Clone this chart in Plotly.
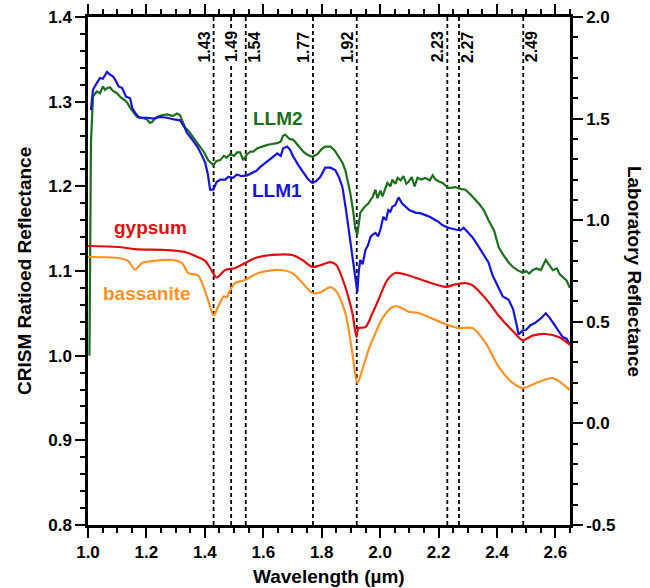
import plotly.graph_objects as go

# ---------------- data ----------------
llm2_x = [1.005, 1.010, 1.017, 1.030, 1.041, 1.051, 1.058, 1.065, 1.075, 1.085, 1.099, 1.112, 1.125, 1.134, 1.144,
          1.154, 1.161, 1.168, 1.185, 1.202, 1.212, 1.219, 1.230, 1.237, 1.252, 1.271, 1.290, 1.305, 1.315, 1.325,
          1.333, 1.345, 1.360, 1.372, 1.384, 1.398, 1.411, 1.429, 1.440, 1.453, 1.465, 1.475, 1.487, 1.500, 1.510,
          1.521, 1.531, 1.545, 1.556, 1.566, 1.580, 1.595, 1.614, 1.630, 1.648, 1.660, 1.668, 1.675, 1.690, 1.703,
          1.720, 1.737, 1.752, 1.768, 1.785, 1.800, 1.812, 1.830, 1.845, 1.857, 1.871, 1.881, 1.891, 1.898, 1.908,
          1.915, 1.922, 1.928, 1.932, 1.945, 1.960, 1.975, 1.984, 1.991, 2.001, 2.008, 2.018, 2.025, 2.035, 2.042,
          2.052, 2.060, 2.070, 2.080, 2.090, 2.097, 2.108, 2.118, 2.128, 2.140, 2.155, 2.170, 2.180, 2.190, 2.200,
          2.214, 2.234, 2.258, 2.275, 2.292, 2.310, 2.337, 2.355, 2.371, 2.390, 2.406, 2.420, 2.440, 2.454, 2.470,
          2.488, 2.500, 2.510, 2.522, 2.535, 2.550, 2.567, 2.580, 2.591, 2.605, 2.615, 2.625, 2.638, 2.650]
llm2_y = [1.000, 1.250, 1.306, 1.312, 1.310, 1.318, 1.314, 1.316, 1.317, 1.313, 1.310, 1.305, 1.302, 1.299, 1.293,
          1.288, 1.284, 1.282, 1.281, 1.279, 1.275, 1.276, 1.280, 1.282, 1.284, 1.285, 1.283, 1.286, 1.284, 1.276,
          1.269, 1.265, 1.258, 1.252, 1.247, 1.240, 1.231, 1.225, 1.230, 1.231, 1.236, 1.234, 1.238, 1.236, 1.240,
          1.240, 1.231, 1.238, 1.241, 1.241, 1.245, 1.247, 1.249, 1.250, 1.251, 1.253, 1.260, 1.261, 1.256, 1.255,
          1.248, 1.241, 1.237, 1.235, 1.238, 1.244, 1.247, 1.247, 1.242, 1.235, 1.228, 1.219, 1.205, 1.192, 1.170,
          1.150, 1.143, 1.160, 1.169, 1.175, 1.180, 1.188, 1.196, 1.186, 1.195, 1.188, 1.198, 1.204, 1.200, 1.208,
          1.203, 1.210, 1.207, 1.212, 1.203, 1.205, 1.211, 1.200, 1.210, 1.208, 1.210, 1.207, 1.213, 1.208, 1.206,
          1.204, 1.198, 1.199, 1.197, 1.196, 1.190, 1.180, 1.172, 1.160, 1.148, 1.128, 1.120, 1.110, 1.105, 1.101,
          1.098, 1.100, 1.097, 1.101, 1.103, 1.101, 1.113, 1.106, 1.101, 1.103, 1.096, 1.093, 1.089, 1.080]

llm1_x = [1.010, 1.017, 1.030, 1.041, 1.051, 1.058, 1.065, 1.075, 1.085, 1.093, 1.105, 1.117, 1.130, 1.144, 1.152,
          1.161, 1.175, 1.202, 1.225, 1.245, 1.271, 1.295, 1.315, 1.330, 1.339, 1.355, 1.374, 1.388, 1.401, 1.410,
          1.418, 1.429, 1.440, 1.453, 1.470, 1.480, 1.497, 1.510, 1.525, 1.545, 1.560, 1.575, 1.590, 1.610, 1.630,
          1.648, 1.660, 1.668, 1.682, 1.692, 1.703, 1.720, 1.737, 1.752, 1.768, 1.780, 1.795, 1.812, 1.830, 1.847,
          1.860, 1.871, 1.882, 1.891, 1.900, 1.908, 1.915, 1.922, 1.927, 1.932, 1.940, 1.950, 1.958, 1.967, 1.975,
          1.984, 1.993, 2.001, 2.011, 2.020, 2.028, 2.035, 2.042, 2.052, 2.063, 2.075, 2.087, 2.100, 2.121, 2.140,
          2.155, 2.170, 2.190, 2.200, 2.214, 2.234, 2.258, 2.275, 2.286, 2.300, 2.316, 2.335, 2.351, 2.371, 2.385,
          2.406, 2.420, 2.440, 2.455, 2.465, 2.474, 2.488, 2.498, 2.515, 2.532, 2.550, 2.567, 2.580, 2.590, 2.601,
          2.612, 2.625, 2.638, 2.650]
llm1_y = [1.290, 1.314, 1.322, 1.328, 1.327, 1.331, 1.335, 1.332, 1.330, 1.326, 1.318, 1.316, 1.306, 1.304, 1.292,
          1.287, 1.281, 1.281, 1.280, 1.282, 1.281, 1.279, 1.278, 1.270, 1.263, 1.256, 1.247, 1.238, 1.228, 1.215,
          1.196, 1.196, 1.205, 1.208, 1.208, 1.211, 1.210, 1.214, 1.212, 1.213, 1.216, 1.218, 1.223, 1.228, 1.234,
          1.239, 1.236, 1.245, 1.247, 1.243, 1.235, 1.225, 1.216, 1.209, 1.204, 1.206, 1.211, 1.222, 1.222, 1.219,
          1.210, 1.199, 1.175, 1.152, 1.128, 1.105, 1.090, 1.075, 1.100, 1.113, 1.108, 1.125, 1.130, 1.140, 1.143,
          1.145, 1.141, 1.149, 1.164, 1.160, 1.172, 1.170, 1.176, 1.178, 1.187, 1.180, 1.176, 1.172, 1.169, 1.168,
          1.166, 1.164, 1.160, 1.158, 1.154, 1.151, 1.149, 1.148, 1.151, 1.146, 1.140, 1.130, 1.121, 1.110, 1.095,
          1.081, 1.070, 1.066, 1.055, 1.040, 1.025, 1.030, 1.030, 1.036, 1.039, 1.044, 1.050, 1.045, 1.040, 1.034,
          1.030, 1.022, 1.020, 1.013]

gyp_x = [1.000, 1.103, 1.161, 1.274, 1.333, 1.377, 1.401, 1.418, 1.440, 1.455, 1.470, 1.504, 1.538, 1.573,
         1.631, 1.699, 1.734, 1.768, 1.795, 1.830, 1.850, 1.881, 1.905, 1.919, 1.926, 1.950, 1.974, 1.994,
         2.025, 2.052, 2.087, 2.155, 2.224, 2.258, 2.292, 2.316, 2.345, 2.375, 2.406, 2.454, 2.488, 2.522,
         2.567, 2.611, 2.650]
gyp_y = [0.873, 0.868, 0.858, 0.853, 0.843, 0.818, 0.800, 0.765, 0.718, 0.735, 0.755, 0.765, 0.789, 0.814,
         0.829, 0.829, 0.804, 0.770, 0.778, 0.794, 0.780, 0.671, 0.543, 0.425, 0.469, 0.474, 0.543, 0.607,
         0.706, 0.740, 0.733, 0.700, 0.672, 0.684, 0.690, 0.680, 0.640, 0.590, 0.530, 0.455, 0.410, 0.432,
         0.440, 0.425, 0.386]

bas_x = [1.000, 1.103, 1.137, 1.161, 1.185, 1.219, 1.288, 1.322, 1.343, 1.377, 1.401, 1.418, 1.430, 1.446,
         1.465, 1.475, 1.485, 1.504, 1.538, 1.583, 1.651, 1.699, 1.734, 1.768, 1.795, 1.830, 1.850, 1.881,
         1.905, 1.922, 1.939, 1.960, 1.984, 2.011, 2.042, 2.063, 2.097, 2.131, 2.166, 2.214, 2.241, 2.268,
         2.316, 2.361, 2.406, 2.454, 2.488, 2.543, 2.591, 2.650]
bas_y = [0.819, 0.814, 0.800, 0.757, 0.789, 0.799, 0.804, 0.789, 0.740, 0.728, 0.650, 0.575, 0.530, 0.575,
         0.625, 0.620, 0.650, 0.691, 0.706, 0.740, 0.755, 0.740, 0.691, 0.642, 0.645, 0.671, 0.650, 0.543,
         0.346, 0.199, 0.263, 0.361, 0.445, 0.524, 0.573, 0.575, 0.550, 0.543, 0.524, 0.494, 0.480, 0.469,
         0.469, 0.396, 0.278, 0.199, 0.174, 0.204, 0.223, 0.164]

band_centers = [1.43, 1.49, 1.54, 1.77, 1.92, 2.23, 2.27, 2.49]
band_labels = ["1.43", "1.49", "1.54", "1.77", "1.92", "2.23", "2.27", "2.49"]
band_label_side = [-1, 0, 1, -1, -1, -1, 1, 1]   # label left of, on, or right of its line

right_tick_vals = [-0.5, 0.0, 0.5, 1.0, 1.5, 2.0]
right_tick_text = ["-0.5", "0.0", "0.5", "1.0", "1.5", "2.0"]

x_range = [1.0, 2.65]
y_left_range = [0.8, 1.4]
y_right_range = [-0.5, 2.0]

# ---------------- styling ----------------
GREEN = "#1d6e1d"
BLUE = "#1414dc"
RED = "#e00f0f"
ORANGE = "#ff9224"
FONT = "Liberation Sans, Arial, sans-serif"

fig = go.Figure()
fig.add_trace(go.Scatter(x=llm2_x, y=llm2_y, mode="lines", line=dict(color=GREEN, width=2.2), yaxis="y"))
fig.add_trace(go.Scatter(x=llm1_x, y=llm1_y, mode="lines", line=dict(color=BLUE, width=2.2), yaxis="y"))
fig.add_trace(go.Scatter(x=gyp_x, y=gyp_y, mode="lines", line=dict(color=RED, width=2.2, shape="spline", smoothing=0.8), yaxis="y2"))
fig.add_trace(go.Scatter(x=bas_x, y=bas_y, mode="lines", line=dict(color=ORANGE, width=2.2, shape="spline", smoothing=0.8), yaxis="y2"))

shapes = []
annotations = []
for c, lab, side in zip(band_centers, band_labels, band_label_side):
    shapes.append(dict(type="line", xref="x", yref="paper", x0=c, x1=c, y0=0, y1=1,
                       line=dict(color="black", width=1.8, dash="4px,3px"), layer="below"))
    ann = dict(x=c, y=0.941, xref="x", yref="paper", text=lab, showarrow=False,
               xanchor="center", yanchor="middle", textangle=-90, xshift=9 * side if side else 1,
               font=dict(family=FONT, size=16, color="black", weight="bold"))
    if side == 0:
        ann["bgcolor"] = "white"
    annotations.append(ann)

curve_labels = [("LLM2", 1.651, 1.280, GREEN), ("LLM1", 1.648, 1.195, BLUE),
                ("gypsum", 1.213, 1.151, RED), ("bassanite", 1.202, 1.074, ORANGE)]
for t, xx, yy, col in curve_labels:
    annotations.append(dict(x=xx, y=yy, xref="x", yref="y", text=t, showarrow=False,
                            xanchor="center", yanchor="middle",
                            font=dict(family=FONT, size=19, color=col, weight="bold")))

title_font = dict(family=FONT, size=19, color="black", weight="bold")
annotations.append(dict(x=-0.133, y=0.5, xref="paper", yref="paper", text="CRISM Ratioed Reflectance",
                        xanchor="center", yanchor="middle", showarrow=False, textangle=-90, font=title_font))
annotations.append(dict(x=1.135, y=0.5, xref="paper", yref="paper", text="Laboratory Reflectance",
                        xanchor="center", yanchor="middle", showarrow=False, textangle=90, font=title_font))
annotations.append(dict(x=0.5, y=-0.102, xref="paper", yref="paper", text="Wavelength (µm)",
                        xanchor="center", yanchor="middle", showarrow=False, font=title_font))

tickfont = dict(family=FONT, size=17, color="black", weight="bold")
common = dict(showline=True, linecolor="black", linewidth=2.5, ticks="outside", ticklen=10, tickwidth=2,
              tickcolor="black", showgrid=False, zeroline=False, tickfont=tickfont, tickformat=".1f",
              automargin=False)
minor_common = dict(ticklen=5, tickwidth=2, ticks="outside", tickcolor="black", showgrid=False)

fig.update_layout(
    width=650, height=588,
    margin=dict(l=88, r=80, t=17, b=63),
    paper_bgcolor="white", plot_bgcolor="white",
    showlegend=False,
    shapes=shapes, annotations=annotations,
    xaxis=dict(range=x_range, dtick=0.2, tick0=1.0, mirror="ticks",
               minor=dict(dtick=0.05, tick0=1.0, **minor_common), **common),
    yaxis=dict(range=y_left_range, dtick=0.1, tick0=0.8,
               minor=dict(dtick=0.02, tick0=0.8, **minor_common), **common),
    yaxis2=dict(range=y_right_range, tickmode="array", tickvals=right_tick_vals, ticktext=right_tick_text,
                overlaying="y", side="right",
                minor=dict(dtick=0.1, tick0=-0.5, **minor_common), **common),
)

fig.write_html("out.html")
